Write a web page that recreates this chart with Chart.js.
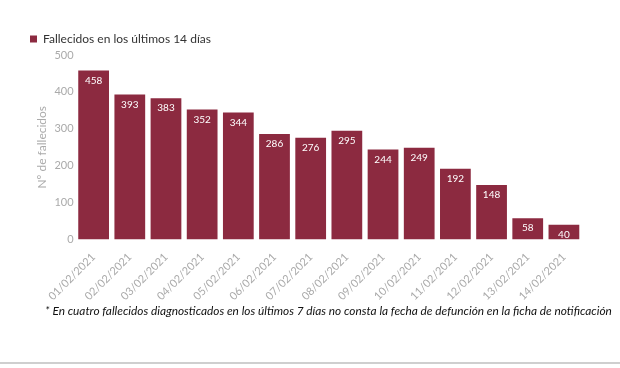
<!DOCTYPE html>
<html>
<head>
<meta charset="utf-8">
<script src="https://cdn.jsdelivr.net/npm/chart.js@4"></script>
<style>
  body { margin: 0; background: #fff; }
  #wrap { position: relative; width: 620px; height: 368px; }
  #chart-box { position: absolute; left: 0; top: 25px; width: 600px; height: 281px; }
  #nota { position: absolute; left: 45px; top: 303px; font-family: Lato, "Open Sans", sans-serif; font-style: italic; font-size: 11.85px; color: #111; white-space: nowrap; }
  #linea { position: absolute; left: 0; top: 362px; width: 620px; height: 2px; background: #cfcfcf; }
</style>
</head>
<body>
<div id="wrap">
  <div id="chart-box"><canvas id="grafico"></canvas></div>
  <div id="nota">* En cuatro fallecidos diagnosticados en los últimos 7 días no consta la fecha de defunción en la ficha de notificación</div>
  <div id="linea"></div>
</div>
<script>
const fechas = ['01/02/2021', '02/02/2021', '03/02/2021', '04/02/2021', '05/02/2021', '06/02/2021', '07/02/2021',
                '08/02/2021', '09/02/2021', '10/02/2021', '11/02/2021', '12/02/2021', '13/02/2021', '14/02/2021'];
const fallecidos = [458, 393, 383, 352, 344, 286, 276, 295, 244, 249, 192, 148, 58, 40];
const etiquetaSerie = 'Fallecidos en los últimos 14 días';

const granate = '#8c2a40';

// valores en blanco dentro de cada barra
const etiquetas = {
    id: 'etiquetas',
    afterDatasetsDraw(chart) {
        const ctx = chart.ctx;
        const meta = chart.getDatasetMeta(0);
        ctx.save();
        ctx.fillStyle = '#fff';
        ctx.font = '10px Lato, sans-serif';
        ctx.textAlign = 'center';
        ctx.textBaseline = 'top';
        meta.data.forEach((bar, i) => {
            ctx.fillText(fallecidos[i], bar.x, bar.y + 5);
        });
        ctx.restore();
    }
};

new Chart(document.getElementById('grafico'), {
    type: 'bar',
    data: {
        labels: fechas,
        datasets: [{
            label: etiquetaSerie,
            data: fallecidos,
            backgroundColor: granate,
            borderWidth: 0,
            categoryPercentage: 0.85,
            barPercentage: 1
        }]
    },
    options: {
        responsive: true,
        maintainAspectRatio: false,
        animation: false,
        layout: { padding: { left: 22, right: 18, top: 0, bottom: 0 } },
        plugins: {
            legend: {
                align: 'start',
                labels: {
                    boxWidth: 7,
                    boxHeight: 7,
                    color: '#333',
                    font: { family: 'Lato', size: 12 },
                    padding: 8
                }
            },
            tooltip: { enabled: false }
        },
        scales: {
            x: {
                grid: { display: false },
                border: { display: false },
                ticks: {
                    color: '#aaa',
                    font: { family: 'Lato', size: 11 },
                    maxRotation: 45,
                    minRotation: 45
                }
            },
            y: {
                min: 0,
                max: 500,
                grid: { display: false, drawTicks: false },
                border: { display: false },
                ticks: {
                    stepSize: 100,
                    color: '#aaa',
                    font: { family: 'Lato', size: 11 },
                    padding: 2
                },
                title: {
                    display: true,
                    text: 'Nº de fallecidos',
                    color: '#aaa',
                    font: { family: 'Lato', size: 12 },
                    padding: { top: 13, bottom: 3 }
                }
            }
        }
    },
    plugins: [etiquetas]
});
</script>
</body>
</html>
